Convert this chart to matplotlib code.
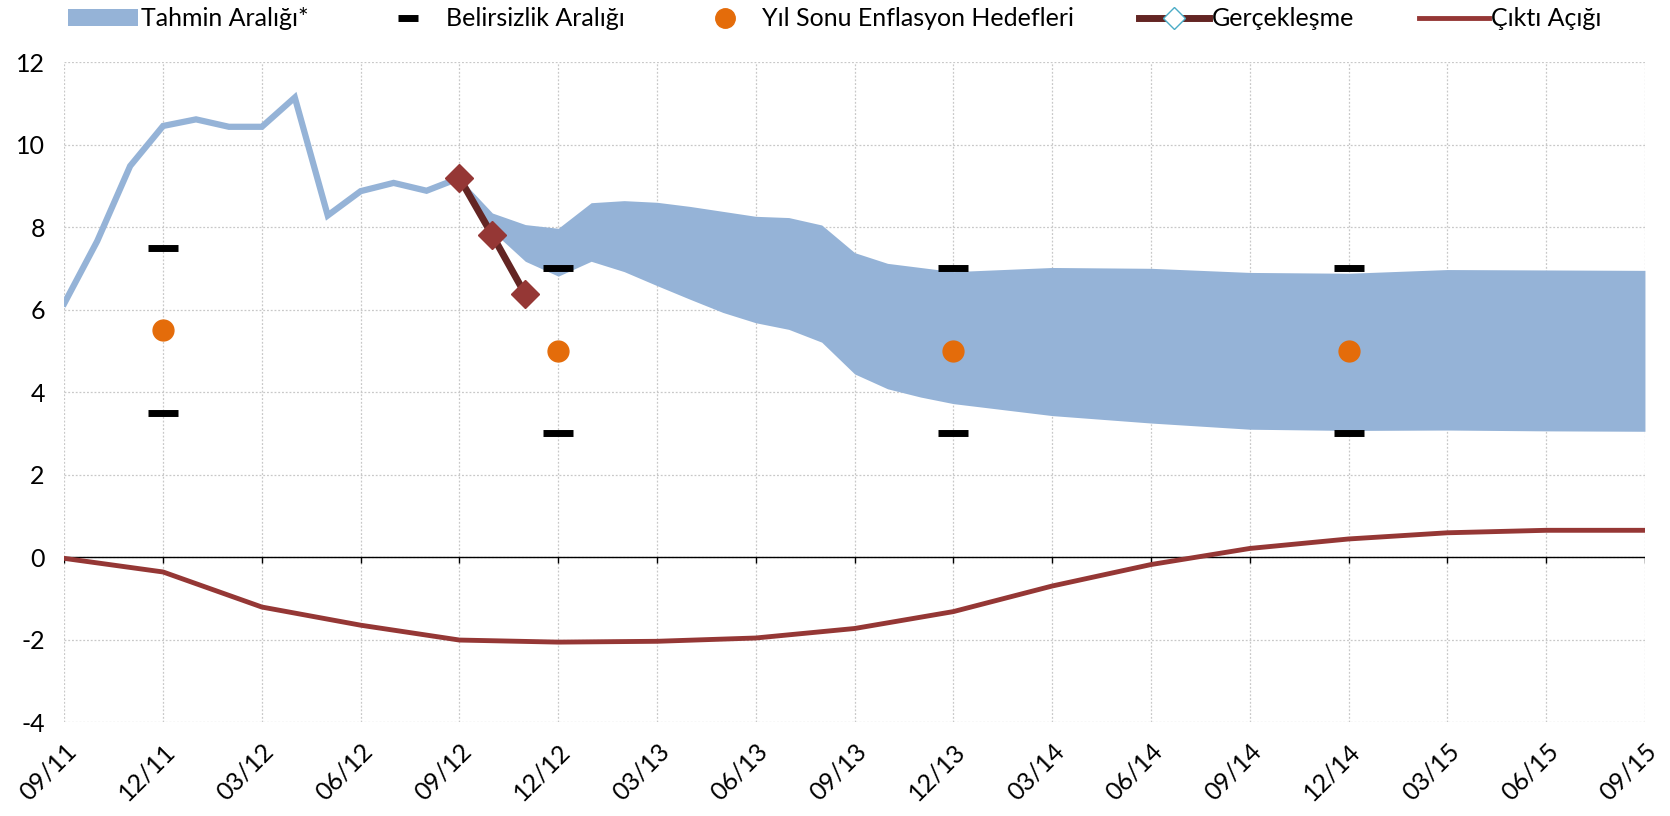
import matplotlib.pyplot as plt
import numpy as np
from matplotlib.lines import Line2D
from matplotlib.patches import Patch

plt.rcParams['font.family'] = ['Lato', 'DejaVu Sans']

# month index 0 = 09/11, 48 = 09/15
tickLabels = ["09/11", "12/11", "03/12", "06/12", "09/12", "12/12", "03/13", "06/13", "09/13",
              "12/13", "03/14", "06/14", "09/14", "12/14", "03/15", "06/15", "09/15"]

# realised annual CPI inflation 09/11 - 09/12
histMonths = list(range(0, 13))
histValues = [6.15, 7.66, 9.48, 10.45, 10.61, 10.43, 10.43, 11.14, 8.28, 8.87, 9.07, 8.88, 9.19]

# latest realisations
actMonths = [12, 13, 14]
actValues = [9.19, 7.80, 6.37]

# forecast band
bandMonths = [12, 13, 14, 15, 16, 17, 18, 19, 20, 21, 22, 23, 24, 25, 26, 27, 30, 33, 36, 39, 42, 45, 48]
bandUpper = [9.19, 8.34, 8.06, 7.97, 8.59, 8.64, 8.60, 8.50, 8.38, 8.26, 8.23, 8.05, 7.38, 7.12, 7.02, 6.92,
             7.02, 7.00, 6.90, 6.88, 6.97, 6.96, 6.95]
bandLower = [9.19, 7.90, 7.17, 6.81, 7.17, 6.92, 6.58, 6.25, 5.93, 5.68, 5.52, 5.21, 4.44, 4.08, 3.88, 3.72,
             3.43, 3.25, 3.10, 3.07, 3.08, 3.06, 3.05]

# year-end targets and uncertainty bounds
targetMonths = [3, 15, 27, 39]
targetValues = [5.5, 5.0, 5.0, 5.0]
uncUpper = [7.5, 7.0, 7.0, 7.0]
uncLower = [3.5, 3.0, 3.0, 3.0]

# output gap, quarterly
gapMonths = list(range(0, 49, 3))
gapValues = [-0.03, -0.36, -1.21, -1.65, -2.01, -2.06, -2.04, -1.96, -1.73, -1.32, -0.70, -0.18,
             0.21, 0.44, 0.59, 0.65, 0.65]

blue = '#95B3D7'
darkRed = '#632523'
red = '#953735'
orange = '#E46C0A'

fig = plt.figure(figsize=(16.7, 8.16), dpi=100)
ax = fig.add_axes([0.0385, 0.115, 0.9465, 0.809])

ax.fill_between(bandMonths, bandLower, bandUpper, color=blue, linewidth=0, zorder=2)
ax.plot(histMonths, histValues, color=blue, linewidth=4.5, solid_joinstyle='miter', zorder=3)

# zero line with small quarter ticks
ax.axhline(0, color='black', linewidth=1.0, zorder=2.5)
ax.vlines(range(0, 49, 3), -0.15, 0, color='black', linewidth=1.0, zorder=2.5)
ax.plot(gapMonths, gapValues, color=red, linewidth=3.5, zorder=3)

ax.plot(targetMonths, uncUpper, linestyle='none', marker='_', markersize=22, markeredgewidth=5,
        color='black', zorder=4)
ax.plot(targetMonths, uncLower, linestyle='none', marker='_', markersize=22, markeredgewidth=5,
        color='black', zorder=4)
ax.plot(targetMonths, targetValues, linestyle='none', marker='o', markersize=15, color=orange, zorder=4)

ax.plot(actMonths, actValues, color=darkRed, linewidth=5, marker='D', markersize=14,
        markerfacecolor=red, markeredgecolor=red, zorder=5)

ax.set_xlim(0, 48)
ax.set_ylim(-4, 12)
ax.set_yticks(np.arange(-4, 13, 2))
ax.set_yticklabels([str(v) for v in range(-4, 13, 2)], fontsize=18)
ax.set_xticks(range(0, 49, 3))
ax.set_xticklabels(tickLabels, fontsize=18, rotation=45, ha='right', va='top', rotation_mode='anchor')
ax.tick_params(length=0, pad=12)
ax.tick_params(axis='y', pad=14)
ax.grid(True, color='#c8c8c8', linestyle=(0, (1.5, 1.5)), linewidth=0.9, zorder=0)
ax.set_axisbelow(True)
for s in ['top', 'right', 'bottom', 'left']:
    ax.spines[s].set_visible(False)

handles = [
    Patch(facecolor=blue, edgecolor='none'),
    Line2D([], [], linestyle='none', marker='_', markersize=14, markeredgewidth=5, color='black'),
    Line2D([], [], linestyle='none', marker='o', markersize=14, color=orange),
    Line2D([], [], color=darkRed, linewidth=5, marker='D', markersize=11,
           markerfacecolor='white', markeredgecolor='#4BACC6'),
    Line2D([], [], color=red, linewidth=3.5),
]
labels = ["Tahmin Aralığı*", "Belirsizlik Aralığı", "Yıl Sonu Enflasyon Hedefleri", "Gerçekleşme", "Çıktı Açığı"]
fig.legend(handles, labels, loc='center', bbox_to_anchor=(0.5, 0.977), ncol=5, frameon=False,
           fontsize=18, handlelength=2.8, handletextpad=0.1, columnspacing=2.6)

plt.savefig('out.png', dpi=100)
